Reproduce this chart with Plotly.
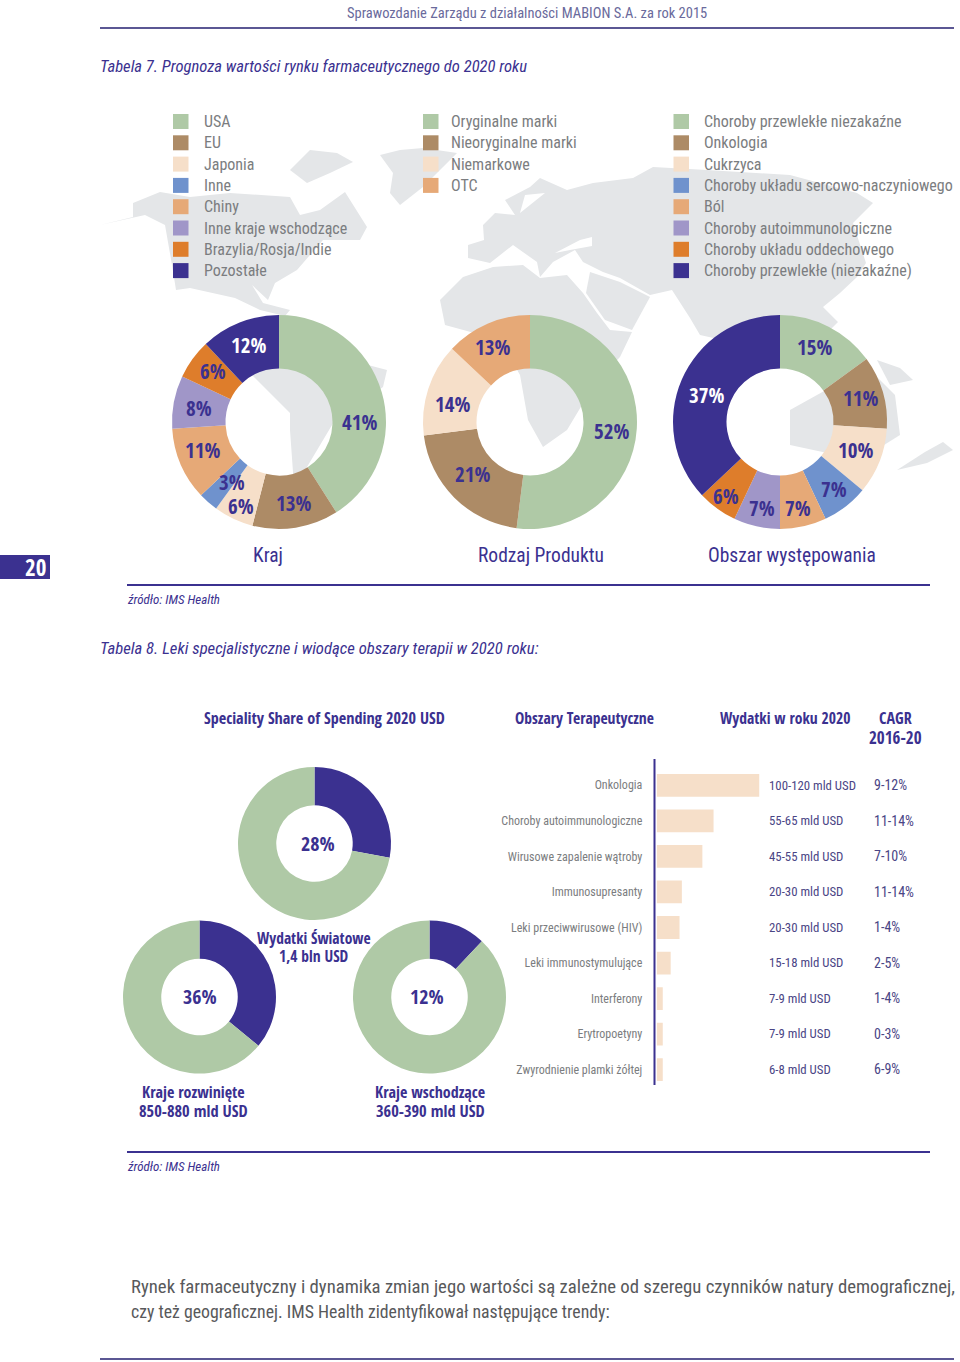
import plotly.graph_objects as go

W, H = 960, 1362
FONT = "Roboto Condensed"
BOLD = "Open Sans Condensed"
NAVY = "#3b3190"
GRAY = "#7b7d80"
GREEN = "#afc9a6"
BROWN = "#ad8b66"
LIGHT = "#f6dfc9"
BLUE = "#6f92cd"
PEACH = "#e6a977"
PURPLE = "#a096c8"
ORANGE = "#de7d2b"
MAPC = "#e4e6e8"

# ---- data ----
kraj_labels = ["USA", "EU", "Japonia", "Inne", "Chiny", "Inne kraje wschodzące", "Brazylia/Rosja/Indie", "Pozostałe"]
kraj_values = [41, 13, 6, 3, 11, 8, 6, 12]
produkt_labels = ["Oryginalne marki", "Nieoryginalne marki", "Niemarkowe", "OTC"]
produkt_values = [52, 21, 14, 13]
obszar_labels = ["Choroby przewlekłe niezakaźne", "Onkologia", "Cukrzyca", "Choroby układu sercowo-naczyniowego",
                 "Ból", "Choroby autoimmunologiczne", "Choroby układu oddechowego", "Choroby przewlekłe (niezakaźne)"]
obszar_values = [15, 11, 10, 7, 7, 7, 6, 37]
share_labels = ["Specialty", "Pozostałe"]
share_world = [28, 72]
share_developed = [36, 64]
share_emerging = [12, 88]
therapy_areas = ["Onkologia", "Choroby autoimmunologiczne", "Wirusowe zapalenie wątroby", "Immunosupresanty",
                 "Leki przeciwwirusowe (HIV)", "Leki immunostymulujące", "Interferony", "Erytropoetyny",
                 "Zwyrodnienie plamki żółtej"]
therapy_spend = [110, 61, 49, 27, 24.5, 15, 6.5, 6.5, 6.5]
therapy_range = ["100-120 mld USD", "55-65 mld USD", "45-55 mld USD", "20-30 mld USD", "20-30 mld USD",
                 "15-18 mld USD", "7-9 mld USD", "7-9 mld USD", "6-8 mld USD"]
therapy_cagr = ["9-12%", "11-14%", "7-10%", "11-14%", "1-4%", "2-5%", "1-4%", "0-3%", "6-9%"]

PALETTE8 = [GREEN, BROWN, LIGHT, BLUE, PEACH, PURPLE, ORANGE, NAVY]
PALETTE4 = [GREEN, BROWN, LIGHT, PEACH]
PALETTE2 = [NAVY, GREEN]

fig = go.Figure()
# invisible carrier so the page axis exists
fig.add_trace(go.Scatter(x=[0, W], y=[0, H], mode="markers", marker=dict(opacity=0), hoverinfo="skip", showlegend=False))


def donut(labels, values, colors, cx, cy, r):
    fig.add_trace(go.Pie(
        labels=labels, values=values, sort=False, direction="clockwise", rotation=0, hole=0.5,
        marker=dict(colors=colors, line=dict(width=0)), textinfo="none", hoverinfo="label+percent",
        showlegend=False,
        domain=dict(x=[(cx - r) / W, (cx + r) / W], y=[1 - (cy + r) / H, 1 - (cy - r) / H]),
    ))


donut(kraj_labels, kraj_values, PALETTE8, 279, 422, 107)
donut(produkt_labels, produkt_values, PALETTE4, 530, 422, 107)
donut(obszar_labels, obszar_values, PALETTE8, 780, 422, 107)
donut(share_labels, share_world, PALETTE2, 314.5, 843.5, 76.5)
donut(share_labels, share_developed, PALETTE2, 199.5, 997, 76.5)
donut(share_labels, share_emerging, PALETTE2, 429.5, 997, 76.5)

fig.add_trace(go.Bar(
    y=therapy_areas, x=therapy_spend, orientation="h", xaxis="x2", yaxis="y2",
    marker=dict(color=LIGHT, line=dict(width=0)), showlegend=False, width=0.64,
))

annotations = []


def txt(x, y, s, size, color=GRAY, anchor="left", family=FONT):
    annotations.append(dict(x=x, y=y, xref="x", yref="y", text=s, showarrow=False, xanchor=anchor, yanchor="middle",
                            borderpad=0, borderwidth=0,
                            font=dict(family=family, size=size, color=color), align=anchor))


shapes = []


def line(x0, x1, y0, y1, color=NAVY, w=2):
    shapes.append(dict(type="line", xref="x", yref="y", x0=x0, x1=x1, y0=y0, y1=y1, line=dict(color=color, width=w), layer="above"))


def rect(x0, x1, y0, y1, color):
    shapes.append(dict(type="rect", xref="x", yref="y", x0=x0, x1=x1, y0=y0, y1=y1, fillcolor=color, line=dict(width=0), layer="above"))


def land(points, color=MAPC):
    path = "M " + " L ".join(f"{a},{b}" for a, b in points) + " Z"
    shapes.append(dict(type="path", xref="x", yref="y", path=path, fillcolor=color, line=dict(width=0), layer="below"))


# decorative world map behind the upper charts
land([(100, 225), (133, 217), (133, 203), (160, 192), (190, 197), (230, 193), (290, 197), (300, 215), (320, 210), (345, 192),
      (367, 227), (360, 240), (323, 240), (297, 270), (275, 283), (268, 300), (252, 285), (263, 303), (290, 310), (285, 316),
      (260, 310), (235, 298), (190, 288), (176, 290), (172, 265), (165, 225), (145, 215)])
land([(290, 170), (310, 150), (337, 153), (353, 162), (330, 173), (307, 183)])
land([(380, 155), (400, 150), (423, 148), (457, 153), (443, 167), (423, 187), (400, 205), (390, 193), (393, 173)])
land([(250, 373), (290, 345), (330, 355), (387, 370), (383, 387), (335, 420), (307, 467), (295, 500), (290, 430), (290, 413)])
land([(440, 300), (463, 277), (493, 267), (523, 265), (540, 278), (567, 275), (583, 293), (597, 313), (610, 330), (632, 332),
      (620, 357), (600, 378), (585, 400), (567, 430), (543, 447), (528, 420), (520, 375), (500, 340), (445, 325)])
land([(468, 245), (484, 240), (483, 225), (495, 213), (515, 215), (505, 200), (530, 187), (540, 178), (567, 190), (593, 183),
      (633, 178), (653, 167), (707, 170), (790, 175), (857, 193), (873, 203), (853, 223), (866, 263), (857, 277), (840, 293),
      (823, 307), (838, 322), (800, 360), (745, 345), (700, 335), (690, 318), (672, 290), (650, 295), (620, 278), (603, 272),
      (583, 262), (575, 250), (553, 262), (540, 277), (537, 262), (513, 245), (490, 263), (468, 258)])
land([(590, 272), (620, 282), (650, 297), (632, 330), (605, 320), (586, 293)])
land([(555, 253), (580, 240), (592, 237), (592, 246), (570, 250)], "white")
land([(525, 195), (545, 193), (520, 213)], "white")
land([(790, 410), (835, 385), (870, 370), (895, 395), (900, 435), (860, 460), (790, 445)])
land([(877, 360), (900, 368), (913, 380), (890, 385)])
land([(897, 470), (925, 452), (943, 442), (953, 450), (927, 463)])

# page furniture
txt(527, 13, "Sprawozdanie Zarządu z działalności MABION S.A. za rok 2015", 14.5, "#6a6a9c", "center")
line(100, 954, 28, 28, "#5b5794", 2)
txt(100, 66, "<i>Tabela 7. Prognoza wartości rynku farmaceutycznego do 2020 roku</i>", 16.6, NAVY)

# legends
for labels, colors, xs, xt in [(kraj_labels, PALETTE8, 173, 203.5), (produkt_labels, PALETTE4, 423, 451), (obszar_labels, PALETTE8, 673.5, 704)]:
    for i, (lab, c) in enumerate(zip(labels, colors)):
        yc = 121.5 + 21.3 * i
        rect(xs, xs + 15.5, yc - 7.5, yc + 7.5, c)
        txt(xt, yc, lab, 16, GRAY)

# donut percentage labels
kraj_xy = [(359, 422), (293, 503), (241, 506), (232, 482), (202, 450), (199, 408), (213, 371), (248, 345)]
produkt_xy = [(611, 431), (472, 474), (452, 404), (492, 347)]
obszar_xy = [(814, 347), (860, 398), (855, 450), (834, 489), (798, 508), (762, 508), (726, 496), (706, 395)]
for vals, xy, white in [(kraj_values, kraj_xy, {7}), (produkt_values, produkt_xy, set()), (obszar_values, obszar_xy, {7})]:
    for i, (v, (x, y)) in enumerate(zip(vals, xy)):
        txt(x, y, f"{v}%", 21, "white" if i in white else NAVY, "center", BOLD)

txt(268, 555, "Kraj", 19.5, NAVY, "center")
txt(541, 555, "Rodzaj Produktu", 19.5, NAVY, "center")
txt(792, 555, "Obszar występowania", 19.5, NAVY, "center")

rect(0, 50, 555, 579, NAVY)
txt(35, 567, "20", 23, "white", "center", BOLD)
line(127, 930, 585, 585, NAVY, 2)
txt(127, 599, "<i>źródło: IMS Health</i>", 13, NAVY)
txt(100, 648, "<i>Tabela 8. Leki specjalistyczne i wiodące obszary terapii w 2020 roku:</i>", 16.7, NAVY)

# table headers
txt(204, 718, "Speciality Share of Spending 2020 USD", 16.2, NAVY, "left", BOLD)
txt(515, 718, "Obszary Terapeutyczne", 15.6, NAVY, "left", BOLD)
txt(720, 718, "Wydatki w roku 2020", 15.6, NAVY, "left", BOLD)
txt(895, 718, "CAGR", 16, NAVY, "center", BOLD)
txt(895, 737, "2016-20", 17, NAVY, "center", BOLD)

# centre of donuts and captions
txt(317.5, 843, "28%", 20, NAVY, "center", BOLD)
txt(199.5, 996, "36%", 20, NAVY, "center", BOLD)
txt(427, 996, "12%", 20, NAVY, "center", BOLD)
txt(314, 937.5, "Wydatki Światowe", 15.5, NAVY, "center", BOLD)
txt(314, 956, "1,4 bln USD", 15.5, NAVY, "center", BOLD)
txt(193.5, 1091.5, "Kraje rozwinięte", 16, NAVY, "center", BOLD)
txt(193.5, 1110, "850-880 mld USD", 16.4, NAVY, "center", BOLD)
txt(430, 1091.5, "Kraje wschodzące", 16, NAVY, "center", BOLD)
txt(430, 1110, "360-390 mld USD", 16.4, NAVY, "center", BOLD)

# value columns next to bars
for i, (a, b) in enumerate(zip(therapy_range, therapy_cagr)):
    yc = 785 + 35.5 * i
    txt(769, yc, a, 12.8, "#4a4585")
    txt(873.5, yc, b, 14, "#4a4585")
line(654.5, 654.5, 759, 1085, NAVY, 2)

line(127, 930, 1152, 1152, NAVY, 2)
txt(127, 1166, "<i>źródło: IMS Health</i>", 13, NAVY)
txt(131, 1287, "Rynek farmaceutyczny i dynamika zmian jego wartości są zależne od szeregu czynników natury demograficznej,", 18.75, "#58595b")
txt(131, 1311.5, "czy też geograficznej. IMS Health zidentyfikował następujące trendy:", 17.8, "#58595b")
line(100, 954, 1359, 1359, "#5b5794", 2)

fig.update_layout(
    width=W, height=H, margin=dict(l=0, r=0, t=0, b=0), paper_bgcolor="white", plot_bgcolor="rgba(0,0,0,0)",
    font=dict(family=FONT), showlegend=False, bargap=0.36,
    xaxis=dict(range=[0, W], domain=[0, 1], visible=False, fixedrange=True),
    yaxis=dict(range=[H, 0], domain=[0, 1], visible=False, fixedrange=True),
    xaxis2=dict(range=[0, 128], domain=[656.7 / W, 776 / W], anchor="y2", visible=False, fixedrange=True),
    yaxis2=dict(domain=[1 - 1087.5 / H, 1 - 767.5 / H], anchor="x2", autorange="reversed", type="category",
                side="left", showline=False, showgrid=False, zeroline=False, ticks="outside", ticklen=11,
                tickcolor="rgba(0,0,0,0)", tickfont=dict(family=FONT, size=12, color=GRAY), fixedrange=True),
    annotations=annotations, shapes=shapes,
)

fig.write_html("out.html", post_script="document.body.style.margin='0';", config=dict(displayModeBar=False))
